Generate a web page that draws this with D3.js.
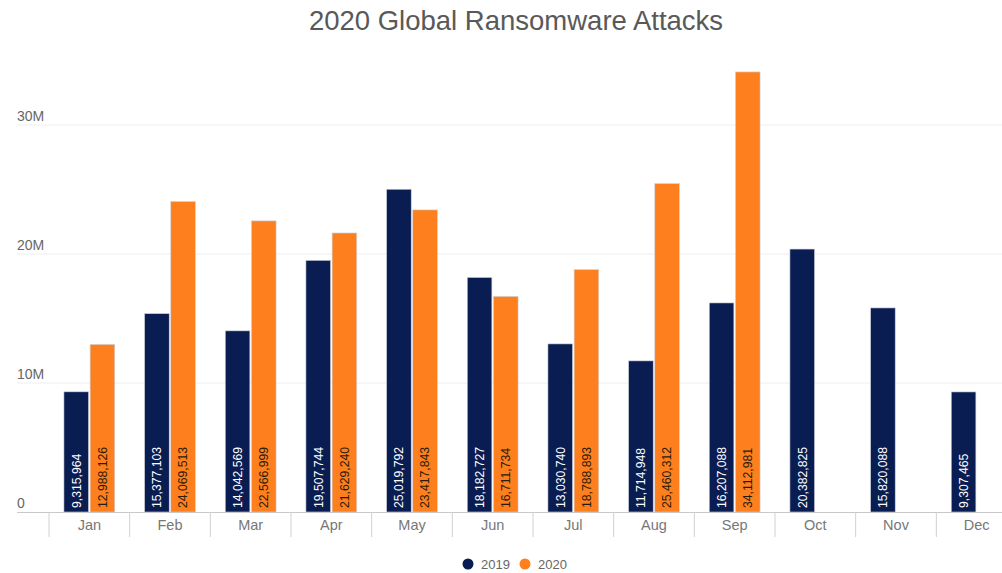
<!DOCTYPE html>
<html><head><meta charset="utf-8">
<script src="https://cdn.jsdelivr.net/npm/d3@7"></script>
<style>body{margin:0;background:#fff;}svg{display:block;font-family:"Liberation Sans",Arial,sans-serif;}</style>
</head><body>
<svg id="c" width="1002" height="573"></svg>
<script>
const months = ["Jan","Feb","Mar","Apr","May","Jun","Jul","Aug","Sep","Oct","Nov","Dec"];
const seriesNames = ["2019","2020"];
const values2019 = [9315964,15377103,14042569,19507744,25019792,18182727,13030740,11714948,16207088,20382825,15820088,9307465];
const values2020 = [12988126,24069513,22566999,21629240,23417843,16711734,18788893,25460312,34112981,null,null,null];
const yTicks = [0,10000000,20000000,30000000];
const yTickLabels = ["0","10M","20M","30M"];
const colors = ["#0a1d52","#fd7f1e"];

const svg = d3.select("#c");
const x0 = d3.scaleBand().domain(months).range([49,1017]).padding(0);
const bw = x0.bandwidth();
const x1 = d3.scaleBand().domain(seriesNames).range([bw*0.185, bw*0.815]).paddingInner(0.06);
const y = d3.scaleLinear().domain([0,30000000]).range([512,125]);

// title
svg.append("text").attr("x",516).attr("y",30).attr("text-anchor","middle")
  .attr("font-size",27.5).attr("fill","#595959").text("2020 Global Ransomware Attacks");

// gridlines
svg.append("g").selectAll("line").data(yTicks.slice(1)).join("line")
  .attr("x1",17).attr("x2",1002).attr("y1",d=>y(d)).attr("y2",d=>y(d))
  .attr("stroke","#eeeeee").attr("stroke-width",1);

// y labels
svg.append("g").selectAll("text").data(yTicks).join("text")
  .attr("x",17).attr("y",d=>y(d)-4).attr("font-size",14).attr("fill","#666")
  .text((d,i)=>yTickLabels[i]);

// bars
const data = months.map((m,i)=>({m, vals:[values2019[i],values2020[i]]}));
const groups = svg.append("g").selectAll("g").data(data).join("g")
  .attr("transform",d=>`translate(${x0(d.m)},0)`);
const items = groups.selectAll("g").data(d=>seriesNames.map((s,k)=>({s,k,v:d.vals[k]})).filter(e=>e.v!=null)).join("g");
items.append("rect")
  .attr("x",e=>x1(e.s)).attr("width",x1.bandwidth())
  .attr("y",e=>y(e.v)).attr("height",e=>y(0)-y(e.v))
  .attr("fill",e=>colors[e.k]).attr("stroke","#d0d3da").attr("stroke-width",0.6);
items.append("text")
  .attr("transform",e=>`translate(${x1(e.s)+x1.bandwidth()/2},${y(0)-4}) rotate(-90)`)
  .attr("dy","0.35em").attr("font-size",12.2)
  .attr("fill",e=>e.k===0?"#ffffff":"#2a1a0a")
  .text(e=>d3.format(",")(e.v));

// x axis line
svg.append("line").attr("x1",17).attr("x2",1002).attr("y1",512.5).attr("y2",512.5)
  .attr("stroke","#c8c8c8").attr("stroke-width",1.2);
// category separators
svg.append("g").selectAll("line").data(months).join("line")
  .attr("x1",d=>x0(d)).attr("x2",d=>x0(d)).attr("y1",512).attr("y2",537)
  .attr("stroke","#d0d0d0").attr("stroke-width",1);
// x labels
svg.append("g").selectAll("text").data(months).join("text")
  .attr("x",d=>x0(d)+bw/2).attr("y",530).attr("text-anchor","middle")
  .attr("font-size",14.5).attr("fill","#777").text(d=>d);

// legend
const leg = svg.append("g");
const legX = [468,525];
seriesNames.forEach((s,k)=>{
  leg.append("circle").attr("cx",legX[k]).attr("cy",564).attr("r",5.5).attr("fill",colors[k]);
  leg.append("text").attr("x",legX[k]+13).attr("y",568.5).attr("font-size",13).attr("fill","#666").text(s);
});
</script>
</body></html>
